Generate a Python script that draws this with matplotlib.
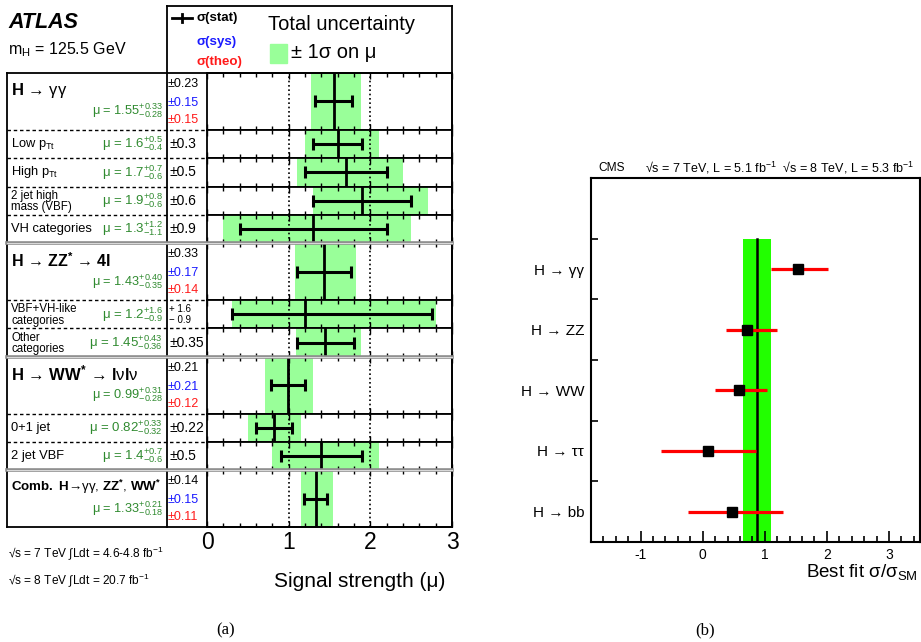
import matplotlib
matplotlib.use('Agg')
import matplotlib.pyplot as plt
import numpy as np
from matplotlib.ticker import MultipleLocator, FixedLocator
from matplotlib.patches import Rectangle
from matplotlib.lines import Line2D

plt.rcParams['font.family'] = ['Liberation Sans', 'DejaVu Sans']
plt.rcParams['mathtext.fontset'] = 'custom'
plt.rcParams['mathtext.rm'] = 'Liberation Sans'
plt.rcParams['mathtext.it'] = 'Liberation Sans:italic'
plt.rcParams['mathtext.bf'] = 'Liberation Sans:bold'
plt.rcParams['axes.unicode_minus'] = False

# ---------------- ATLAS data ----------------
atlas_labels = ["$\\mathbf{H}$ → γγ", "Low p$_{\\mathrm{Tt}}$", "High p$_{\\mathrm{Tt}}$",
                "2 jet high\nmass (VBF)", "VH categories",
                "$\\mathbf{H}$ → $\\mathbf{ZZ^{*}}$ → $\\mathbf{4l}$",
                "VBF+VH-like\ncategories", "Other\ncategories",
                "$\\mathbf{H}$ → $\\mathbf{WW^{*}}$ → $\\mathbf{l}$ν$\\mathbf{l}$ν",
                "0+1 jet", "2 jet VBF",
                "$\\mathbf{Comb.\\ H}$→γγ, $\\mathbf{ZZ^{*}}$, $\\mathbf{WW^{*}}$"]
atlas_major = [True, False, False, False, False, True, False, False, True, False, False, True]
atlas_mu = [1.55, 1.6, 1.7, 1.9, 1.3, 1.43, 1.2, 1.45, 0.99, 0.82, 1.4, 1.33]
atlas_mu_txt = ["1.55", "1.6", "1.7", "1.9", "1.3", "1.43", "1.2", "1.45", "0.99", "0.82", "1.4", "1.33"]
atlas_tot_up = [0.33, 0.5, 0.7, 0.8, 1.2, 0.40, 1.6, 0.43, 0.31, 0.33, 0.7, 0.21]
atlas_tot_dn = [0.28, 0.4, 0.6, 0.6, 1.1, 0.35, 0.9, 0.36, 0.28, 0.32, 0.6, 0.18]
atlas_tot_up_txt = ["0.33", "0.5", "0.7", "0.8", "1.2", "0.40", "1.6", "0.43", "0.31", "0.33", "0.7", "0.21"]
atlas_tot_dn_txt = ["0.28", "0.4", "0.6", "0.6", "1.1", "0.35", "0.9", "0.36", "0.28", "0.32", "0.6", "0.18"]
atlas_stat_up = [0.23, 0.3, 0.5, 0.6, 0.9, 0.33, 1.55, 0.35, 0.21, 0.22, 0.5, 0.14]
atlas_stat_dn = [0.23, 0.3, 0.5, 0.6, 0.9, 0.33, 0.9, 0.35, 0.21, 0.22, 0.5, 0.14]
atlas_stat_txt = ["±0.23", "±0.3", "±0.5", "±0.6", "±0.9", "±0.33", "+ 1.6\n− 0.9",
                  "±0.35", "±0.21", "±0.22", "±0.5", "±0.14"]
atlas_sys_txt = ["±0.15", "±0.17", "±0.21", "±0.15"]
atlas_theo_txt = ["±0.15", "±0.14", "±0.12", "±0.11"]

# ---------------- CMS data ----------------
cms_channels = ["H → γγ", "H → ZZ", "H → WW", "H → ττ", "H → bb"]
cms_best = [1.54, 0.71, 0.59, 0.08, 0.47]
cms_lo = [1.10, 0.37, 0.20, -0.67, -0.24]
cms_hi = [2.02, 1.19, 1.03, 0.86, 1.30]
cms_comb = 0.87
cms_comb_lo = 0.65
cms_comb_hi = 1.10

W, H = 921, 642
fig = plt.figure(figsize=(W / 100, H / 100), dpi=100)

def fx(x):
    return x / W

def fy(y):
    return 1 - y / H

GREEN_TXT = '#2f8a2f'
BAND = '#99ff99'

# ---------- ATLAS rows ----------
x_left, x_right = 207, 452
y_top, y_bot = 73, 527
units = [2 if m else 1 for m in atlas_major]
unit = (y_bot - y_top) / sum(units)
row_tops = []
cum = 0
for i, u in enumerate(units):
    top = y_top + cum * unit
    h = u * unit
    row_tops.append((top, h))
    cum += u
    ax = fig.add_axes([fx(x_left), fy(top + h), (x_right - x_left) / W, h / H])
    mu = atlas_mu[i]
    ax.barh(0.5, atlas_tot_up[i] + atlas_tot_dn[i], left=mu - atlas_tot_dn[i],
            height=1.0, color=BAND, zorder=0.5)
    ax.axvline(1, ls=(0, (1, 1.6)), color='k', lw=1.2, zorder=1)
    ax.axvline(2, ls=(0, (1, 1.6)), color='k', lw=1.2, zorder=1)
    ax.axvline(mu, color='k', lw=2.0, zorder=3)
    ax.errorbar(mu, 0.5, xerr=[[atlas_stat_dn[i]], [atlas_stat_up[i]]], fmt='none',
                ecolor='k', elinewidth=2.2, capsize=4.5, capthick=2.2, zorder=4)
    ax.set_xlim(0, 3)
    ax.set_ylim(0, 1)
    ax.set_yticks([])
    ax.xaxis.set_major_locator(MultipleLocator(1))
    ax.xaxis.set_minor_locator(MultipleLocator(0.2))
    last = (i == len(units) - 1)
    ax.tick_params(axis='x', which='both', direction='in', top=True, bottom=True,
                   labelbottom=last, labelsize=16.5, pad=3)
    ax.tick_params(axis='x', which='major', length=4, width=1)
    ax.tick_params(axis='x', which='minor', length=3, width=1)
    for s in ax.spines.values():
        s.set_linewidth(1.3)

# ---------- overlay for table & text ----------
ov = fig.add_axes([0, 0, 1, 1])
ov.set_xlim(0, W)
ov.set_ylim(H, 0)
ov.axis('off')
ov.patch.set_alpha(0)

lw = 1.3
ov.add_line(Line2D([167, 452], [6, 6], color='k', lw=lw))
ov.add_line(Line2D([167, 167], [6, y_bot], color='k', lw=lw))
ov.add_line(Line2D([452, 452], [6, y_bot], color='k', lw=lw))
ov.add_line(Line2D([7, 452], [y_top, y_top], color='k', lw=lw))
ov.add_line(Line2D([7, 452], [y_bot, y_bot], color='k', lw=lw))
ov.add_line(Line2D([7, 7], [y_top, y_bot], color='k', lw=lw))

for i in range(1, len(units)):
    top, h = row_tops[i]
    if atlas_major[i]:
        ov.add_line(Line2D([7, 452], [top, top], color='#8c8c8c', lw=2.6, zorder=5))
        ov.add_line(Line2D([7, 452], [top, top], color='#d8d8d8', lw=0.8, zorder=6))
    else:
        ov.add_line(Line2D([7, 207], [top, top], color='k', lw=1.0, ls=(0, (2.5, 2))))

mi = 0
for i in range(len(units)):
    top, h = row_tops[i]
    mu_str = "μ = $" + atlas_mu_txt[i] + "^{+" + atlas_tot_up_txt[i] + "}_{-" + atlas_tot_dn_txt[i] + "}$"
    if atlas_major[i]:
        fs = [12, 11.5, 12, 9.6][mi]
        ov.text(11, top + 17, atlas_labels[i], fontsize=fs, ha='left', va='center')
        ov.text(163, top + 38, mu_str, fontsize=9.2, color=GREEN_TXT, ha='right', va='center')
        ov.text(168, top + 11, atlas_stat_txt[i], fontsize=9, color='k', ha='left', va='center')
        ov.text(168, top + 30, atlas_sys_txt[mi], fontsize=9, color='#1a1aff', ha='left', va='center')
        ov.text(168, top + 47, atlas_theo_txt[mi], fontsize=9, color='#ff1a1a', ha='left', va='center')
        mi += 1
    else:
        two = '\n' in atlas_labels[i]
        ov.text(11, top + h / 2 + (1 if two else 0), atlas_labels[i], fontsize=8.3 if two else 9.3,
                ha='left', va='center', linespacing=0.95)
        ov.text(163, top + h / 2, mu_str, fontsize=9.5, color=GREEN_TXT, ha='right', va='center')
        two_s = '\n' in atlas_stat_txt[i]
        ov.text(169, top + h / 2, atlas_stat_txt[i], fontsize=7 if two_s else 10,
                color='k', ha='left', va='center', linespacing=1.1)

ov.text(8, 22, "ATLAS", fontsize=15.5, fontweight='bold', fontstyle='italic', ha='left', va='center')
ov.text(8, 50, "m$_{\\mathrm{H}}$ = 125.5 GeV", fontsize=11.5, ha='left', va='center')

# legend
ov.add_line(Line2D([172, 192], [18, 18], color='k', lw=2))
ov.add_line(Line2D([182, 182], [14, 22], color='k', lw=2))
ov.text(196, 18, "σ(stat)", fontsize=9.6, fontweight='bold', ha='left', va='center')
ov.text(196, 42, "σ(sys)", fontsize=9.6, fontweight='bold', color='#1a1aff', ha='left', va='center')
ov.text(196, 62, "σ(theo)", fontsize=9.6, fontweight='bold', color='#ff1a1a', ha='left', va='center')
ov.text(268, 25, "Total uncertainty", fontsize=14.5, ha='left', va='center')
ov.add_patch(Rectangle((270, 44), 17, 19, color=BAND))
ov.text(291, 53, "± 1σ on μ", fontsize=14.5, ha='left', va='center')

ov.text(445, 587, "Signal strength (μ)", fontsize=15, ha='right', va='baseline')
ov.text(8, 553, "√s = 7 TeV ∫Ldt = 4.6-4.8 fb$^{-1}$", fontsize=8.6, ha='left', va='center')
ov.text(8, 580, "√s = 8 TeV ∫Ldt = 20.7 fb$^{-1}$", fontsize=8.6, ha='left', va='center')

ov.text(226, 630, "(a)", fontsize=12, family=['Liberation Serif', 'DejaVu Serif'], ha='center', va='center')
ov.text(705, 630, "(b)", fontsize=12, family=['Liberation Serif', 'DejaVu Serif'], ha='center', va='center')

# ---------- CMS panel ----------
axc = fig.add_axes([fx(591), fy(542), (920 - 591) / W, (542 - 178) / H])
n = len(cms_channels)
ypos = np.arange(n)[::-1]
best = np.array(cms_best)
lo = np.array(cms_lo)
hi = np.array(cms_hi)
axc.fill_betweenx([-0.5, 4.5], cms_comb_lo, cms_comb_hi, color='#22ff00', lw=0, zorder=1)
axc.plot([cms_comb, cms_comb], [-0.5, 4.5], color='k', lw=1.8, zorder=2)
axc.errorbar(best, ypos, xerr=[best - lo, hi - best], fmt='none', ecolor='#ff0000',
             elinewidth=2.3, capsize=0, zorder=3)
axc.plot(best, ypos, 's', color='k', ms=7.5, zorder=4)
axc.set_xlim(-1.8, 3.5)
axc.set_ylim(-0.5, 5.5)
axc.xaxis.set_major_locator(MultipleLocator(1))
axc.xaxis.set_minor_locator(MultipleLocator(0.2))
axc.tick_params(axis='x', which='both', direction='in', top=False, labelsize=10, pad=4)
axc.tick_params(axis='x', which='major', length=8, width=1.2)
axc.tick_params(axis='x', which='minor', length=4, width=1.2)
axc.set_yticks(ypos)
axc.set_yticklabels(cms_channels)
axc.yaxis.set_minor_locator(FixedLocator(np.arange(-0.5, 5.0, 1.0)))
axc.tick_params(axis='y', which='major', length=0, labelsize=11, pad=5)
axc.tick_params(axis='y', which='minor', direction='in', length=5, width=1.2)
for s in axc.spines.values():
    s.set_linewidth(1.5)

ov.text(598, 168, "CMS", fontsize=8.6, ha='left', va='center')
ov.text(645, 168, "√s = 7 TeV, L = 5.1 fb$^{-1}$  √s = 8 TeV, L = 5.3 fb$^{-1}$",
        fontsize=9, ha='left', va='center')
ov.text(787, 199, "m$_{\\mathrm{H}}$ = 125.5 GeV", fontsize=11, ha='left', va='center')
ov.text(918, 577, "Best fit σ/σ$_{\\mathrm{SM}}$", fontsize=13.5, ha='right', va='baseline')

fig.savefig('out.png', dpi=100)
